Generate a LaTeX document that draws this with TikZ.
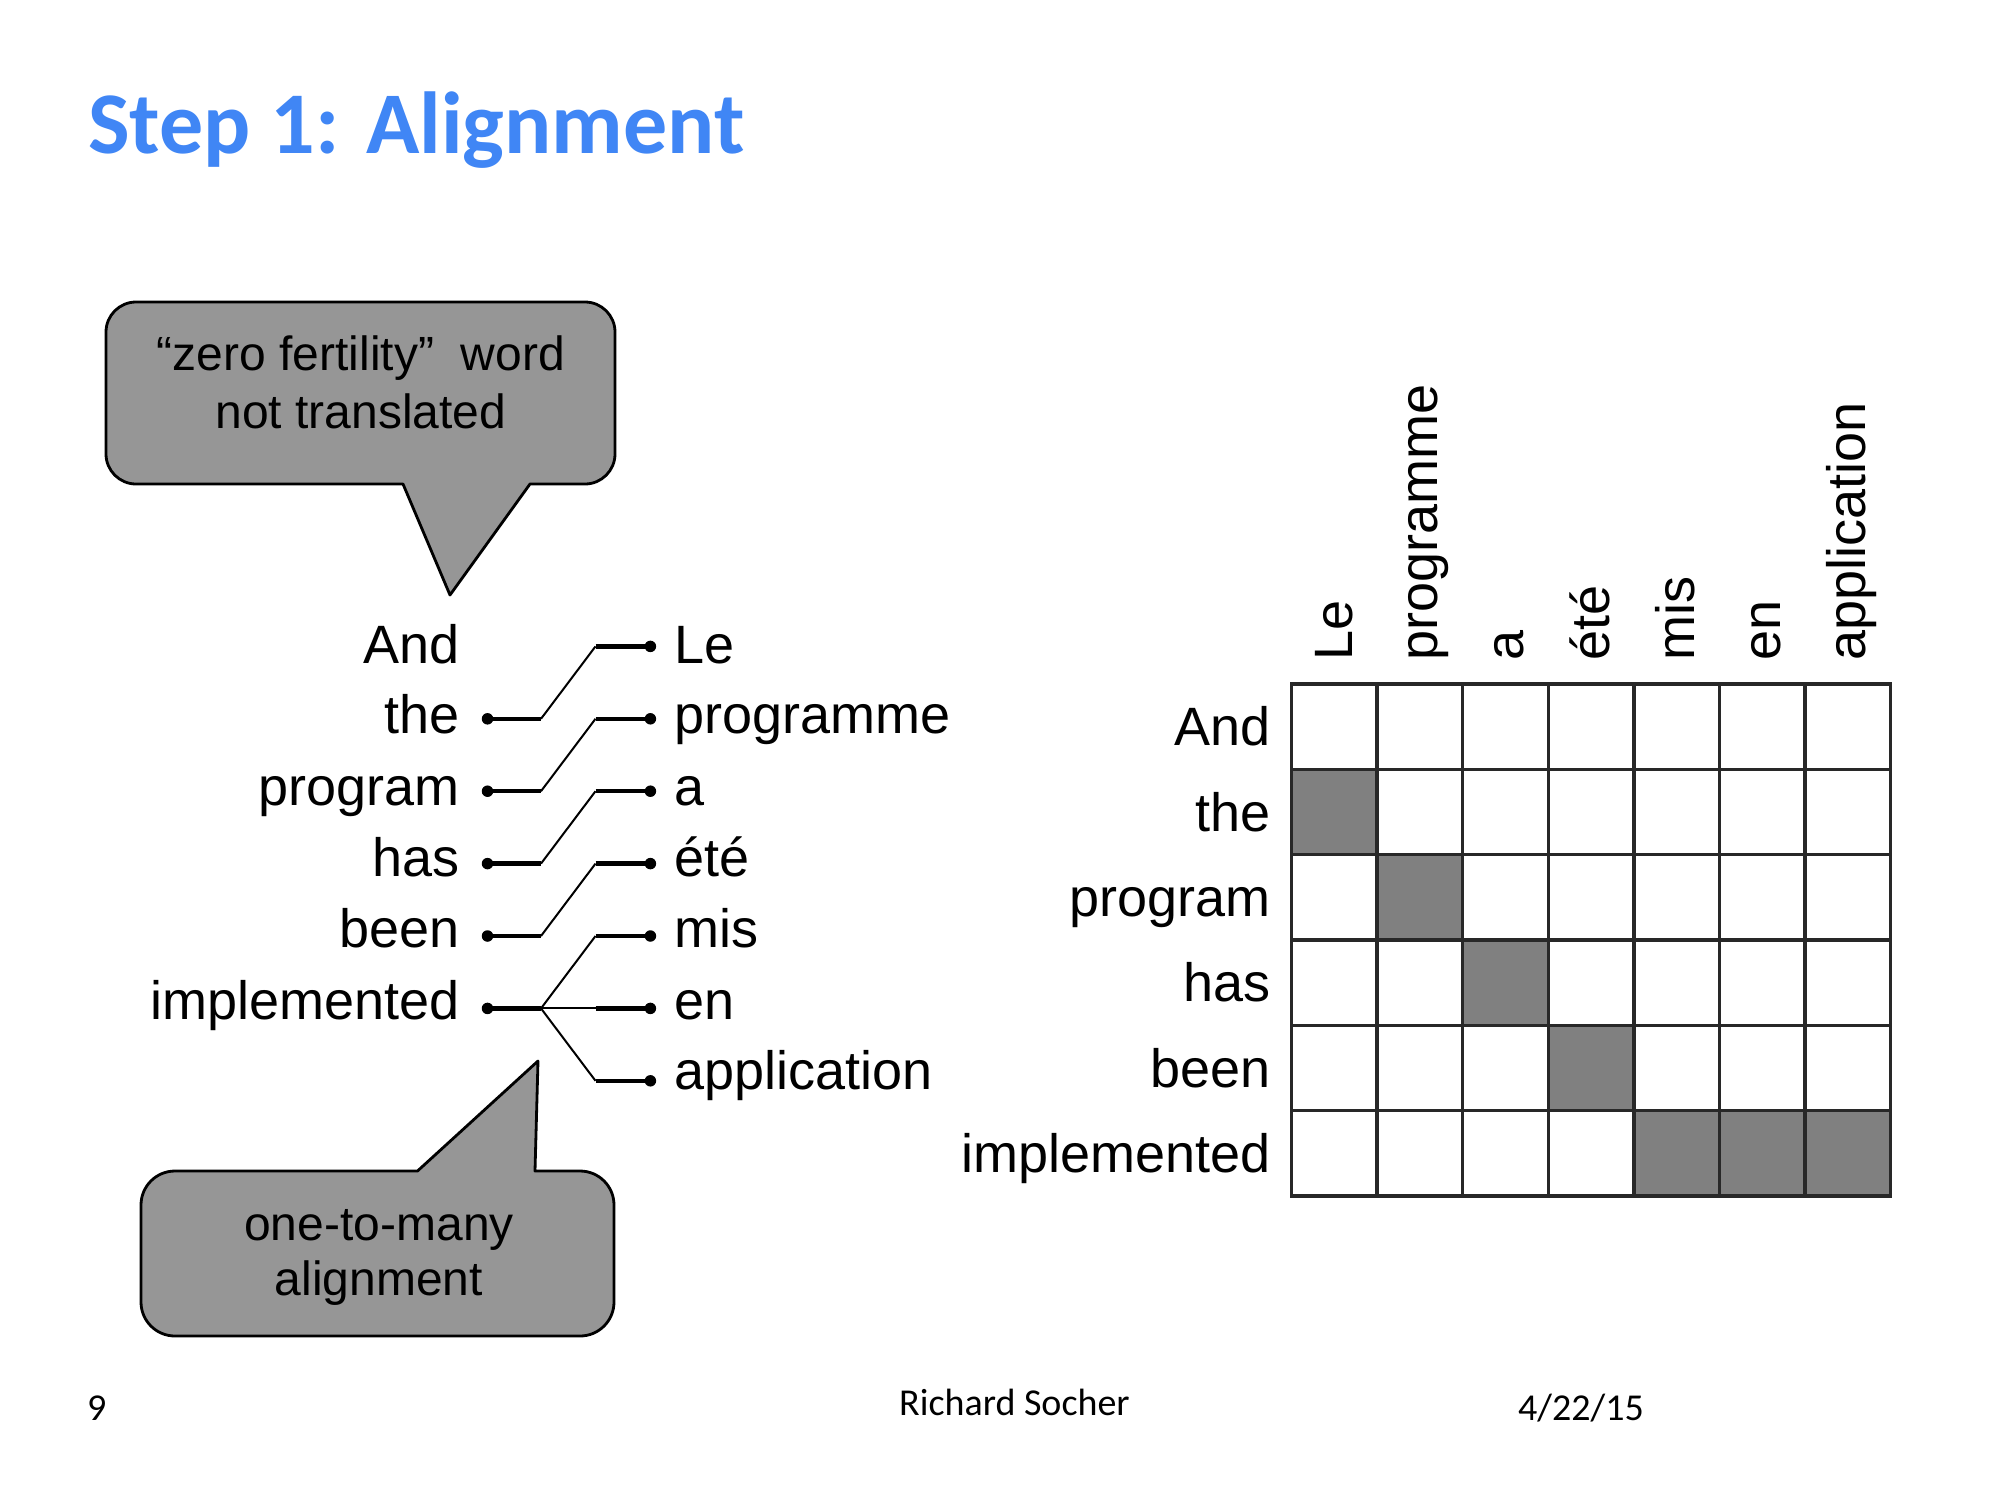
\documentclass[tikz,border=0pt]{standalone}
\usepackage{fontspec}
\setmainfont{Liberation Sans}
\newfontfamily\calib{Carlito}
\definecolor{titleblue}{RGB}{64,134,245}
\definecolor{bubblegray}{RGB}{150,150,150}
\definecolor{cellgray}{RGB}{128,128,128}
\definecolor{gridcol}{RGB}{40,40,40}
\begin{document}
\begin{tikzpicture}[x=1pt,y=-1pt,
  word/.style={font=\fontsize{54}{60}\selectfont, inner sep=0pt},
  bubtext/.style={font=\fontsize{48}{56}\selectfont, inner sep=0pt, anchor=base},
  dot/.style={circle, fill=black, inner sep=0pt, minimum size=11.5pt},
  thickln/.style={line width=4.5pt},
  thinln/.style={line width=2pt},
  bubble/.style={draw=black, fill=bubblegray, line width=2.8pt, line join=round},
  gridln/.style={draw=gridcol, line width=3.4pt},
  foot/.style={font=\calib\fontsize{38}{44}\selectfont, inner sep=0pt, anchor=base west}]
\useasboundingbox (0,0) rectangle (2000,1500);
\fill[white] (0,0) rectangle (2000,1500);

% title
\node[font=\calib\bfseries\fontsize{88}{100}\selectfont, text=titleblue, inner sep=0pt, anchor=base west] (title) at (88,153) {Step 1: Alignment};

% top bubble
\draw[bubble] (403,484) -- (450,595) -- (530,484) -- (585,484)
  .. controls (601.5,484) and (615,470.5) .. (615,454) -- (615,332)
  .. controls (615,315.5) and (601.5,302) .. (585,302) -- (136,302)
  .. controls (119.5,302) and (106,315.5) .. (106,332) -- (106,454)
  .. controls (106,470.5) and (119.5,484) .. (136,484) -- cycle;
\node[bubtext] (zf1) at (361,370.5) {“zero fertility”\ \ word};
\node[bubtext] (zf2) at (361,428.6) {not translated};

% bottom bubble
\draw[bubble] (417.5,1171) -- (538,1061) -- (535,1171) -- (580,1171)
  .. controls (598.8,1171) and (614,1186.2) .. (614,1205) -- (614,1302)
  .. controls (614,1320.8) and (598.8,1336) .. (580,1336) -- (175,1336)
  .. controls (156.2,1336) and (141,1320.8) .. (141,1302) -- (141,1205)
  .. controls (141,1186.2) and (156.2,1171) .. (175,1171) -- cycle;
\node[bubtext] (om1) at (379,1240) {one-to-many};
\node[bubtext] (om2) at (379,1295) {alignment};

% left word list
\foreach \w/\y [count=\i from 0] in {And/663,the/733,program/805,has/876,been/947,implemented/1019}
  \node[word, anchor=base east] (lw\i) at (460,\y) {\w};
\foreach \w/\y [count=\i from 0] in {Le/663,programme/733,a/805,été/876,mis/947,en/1019,application/1089}
  \node[word, anchor=base west] (rw\i) at (674,\y) {\w};

% dots and connectors
\foreach \i/\y in {1/718.8,2/791.2,3/863.6,4/936,5/1008.4}{
  \node[dot] (ld\i) at (487.5,\y) {};
  \coordinate (lj\i) at (541,\y);
  \draw[thickln] (ld\i.center) -- (lj\i);
}
\foreach \j/\y in {0/646.4,1/718.8,2/791.2,3/863.6,4/936,5/1008.4,6/1080.8}{
  \node[dot] (rd\j) at (650.4,\y) {};
  \coordinate (rj\j) at (595.5,\y);
  \draw[thickln] (rj\j) -- (rd\j.center);
}
\draw[thinln] (lj1) -- (rj0);
\draw[thinln] (lj2) -- (rj1);
\draw[thinln] (lj3) -- (rj2);
\draw[thinln] (lj4) -- (rj3);
\draw[thinln] (lj5) -- (rj4);
\draw[thinln] (lj5) -- (rj5);
\draw[thinln] (lj5) -- (rj6);

% alignment matrix
\foreach \c/\r in {0/1,1/2,2/3,3/4,4/5,5/5,6/5}
  \fill[cellgray] ({1291.5+85.6*\c},{684+85.33*\r}) rectangle ++(85.6,85.33);
\foreach \i in {1,...,6}
  \draw[gridln] ({1291.5+85.6*\i},684) -- ({1291.5+85.6*\i},1196);
\foreach \j in {1,...,5}
  \draw[gridln] (1291.5,{684+85.33*\j}) -- (1890.7,{684+85.33*\j});
\draw[gridln] (1291.5,684) rectangle (1890.7,1196);

\foreach \w [count=\i from 0] in {And,the,program,has,been,implemented}
  \node[word, anchor=base east] (gr\i) at (1271,{745.7+85.33*\i}) {\w};
\foreach \w [count=\i from 0] in {Le,programme,a,été,mis,en,application}
  \node[word, rotate=90, anchor=base west] (gc\i) at ({1352.3+85.6*\i},661) {\w};

% footer
\node[foot] (pg) at (87,1420) {9};
\node[foot] (au) at (899,1415) {Richard Socher};
\node[foot] (dt) at (1518,1420) {4/22/15};
\end{tikzpicture}
\end{document}
